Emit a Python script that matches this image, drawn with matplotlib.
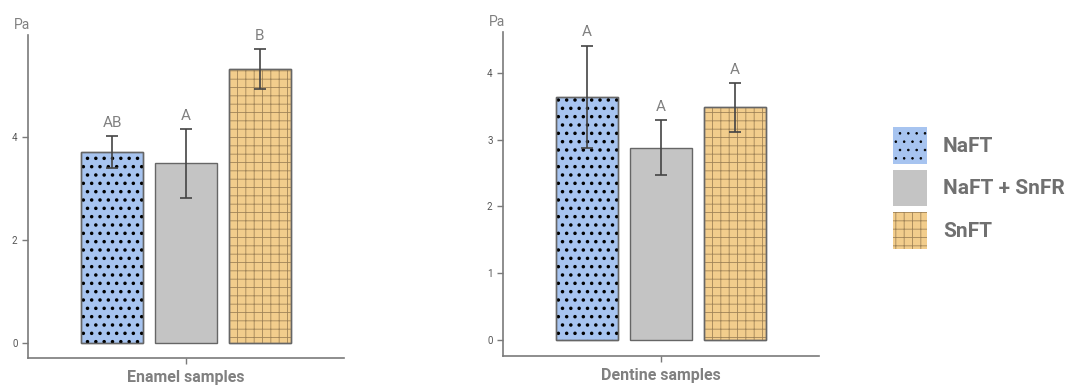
import matplotlib
matplotlib.use("Agg")
import matplotlib.pyplot as plt
from matplotlib.patches import Patch

# Данные
groups = ["NaFT", "NaFT + SnFR", "SnFT"]
enamel_mean = [3.71, 3.49, 5.32]
enamel_err = [0.31, 0.67, 0.38]
enamel_letters = ["AB", "A", "B"]
dentine_mean = [3.64, 2.88, 3.48]
dentine_err = [0.76, 0.41, 0.36]
dentine_letters = ["A", "A", "A"]
panel_titles = ["Enamel samples", "Dentine samples"]

colors = ["#a7c4f0", "#c4c4c4", "#f2cd8c"]
hatches = ["..", None, "++"]
hatch_colors = ["black", None, "#a08458"]
axis_grey = "#7a7a7a"
text_grey = "#808080"

plt.rcParams["font.family"] = ["Roboto", "DejaVu Sans"]
plt.rcParams["hatch.linewidth"] = 0.6

fig = plt.figure(figsize=(10.76, 3.86), dpi=100)
W, H = 1076, 386
ax1 = fig.add_axes([28 / W, 1 - 358 / H, 316 / W, (358 - 35) / H])
ax2 = fig.add_axes([503 / W, 1 - 356 / H, 316 / W, (356 - 32) / H])


def draw_panel(ax, means, errs, letters, title, ylim, yticks, letter_pad):
    x = range(len(means))
    for i in x:
        ax.bar(i, means[i], width=0.84, color=colors[i], edgecolor="#666666",
               linewidth=1.0, zorder=2)
        if hatches[i]:
            b = ax.bar(i, means[i], width=0.84, fill=False, hatch=hatches[i],
                       edgecolor=hatch_colors[i], linewidth=0, zorder=3)
            if hatches[i] == ".." and hasattr(b[0], "set_hatch_linewidth"):
                b[0].set_hatch_linewidth(1.3)
            ax.bar(i, means[i], width=0.84, fill=False, edgecolor="#666666",
                   linewidth=1.0, zorder=4)
    ax.errorbar(list(x), means, yerr=errs, fmt="none", ecolor="#444444",
                elinewidth=1.2, capsize=4, capthick=1.2, zorder=5)
    for i in x:
        ax.text(i, means[i] + errs[i] + letter_pad, letters[i], ha="center",
                va="bottom", fontsize=11, color=text_grey)
    ax.set_xlim(-1.14, 3.14)
    ax.set_ylim(*ylim)
    ax.set_yticks(yticks)
    ax.set_xticks([1])
    ax.set_xticklabels([""])
    ax.set_xlabel(title, fontsize=11.5, fontweight="bold", color=text_grey,
                  labelpad=1)
    for s in ["top", "right"]:
        ax.spines[s].set_visible(False)
    for s in ["left", "bottom"]:
        ax.spines[s].set_color(axis_grey)
        ax.spines[s].set_linewidth(1.2)
    ax.tick_params(axis="both", colors=axis_grey, labelcolor="#555555",
                   labelsize=7, length=4, width=1.0)
    ax.text(-0.02, 1.01, "Pa", transform=ax.transAxes, ha="center", va="bottom",
            fontsize=10, color=text_grey)


draw_panel(ax1, enamel_mean, enamel_err, enamel_letters, panel_titles[0],
           (-0.29, 5.98), [0, 2, 4], 0.12)
draw_panel(ax2, dentine_mean, dentine_err, dentine_letters, panel_titles[1],
           (-0.24, 4.61), [0, 1, 2, 3, 4], 0.1)

handles = []
for i in range(3):
    handles.append(Patch(facecolor=colors[i], edgecolor=hatch_colors[i] or colors[i],
                         hatch=hatches[i], linewidth=0))
leg = fig.legend(handles, groups, loc="center left",
                 bbox_to_anchor=(874 / W, 1 - 188 / H), frameon=False,
                 handlelength=1.63, handleheight=2.3, labelspacing=0.3,
                 handletextpad=0.77, prop={"size": 15, "weight": "bold"})
for t in leg.get_texts():
    t.set_color("#707070")

fig.savefig("out.png", dpi=100)
